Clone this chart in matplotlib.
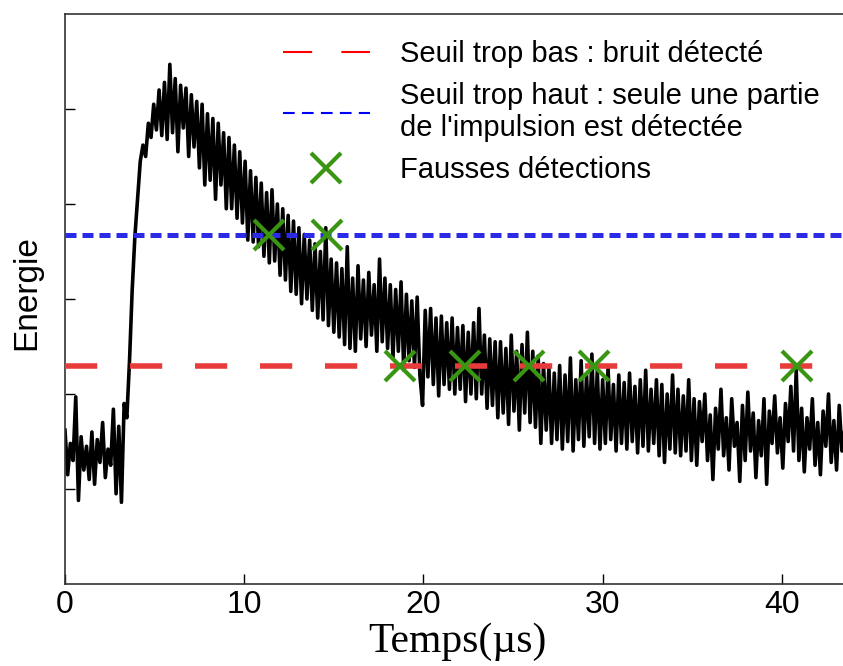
import numpy as np
import matplotlib
matplotlib.use("Agg")
import matplotlib.pyplot as plt
from matplotlib.lines import Line2D

plt.rcParams['font.family'] = ['Liberation Sans', 'DejaVu Sans']

# signal (energie) echantillonne tous les pas_us microsecondes
pas_us = 0.15
energie = [
    1.62, 1.15, 1.48, 1.30, 1.97, 0.88, 1.55, 1.20, 1.45, 1.10, 1.60, 1.05,
    1.52, 1.28, 1.70, 1.12, 1.42, 1.25, 1.84, 0.95, 1.66, 0.86, 1.90,
    1.75, 2.35, 3.10, 3.66, 4.05, 4.45, 4.62, 4.50, 4.85, 4.70, 5.05, 4.78,
    5.20, 4.72, 5.28, 4.68, 5.47, 4.75, 5.32, 4.55, 5.25, 4.80, 5.22, 4.50,
    5.15, 4.60, 5.08, 4.38,
    5.05, 4.20, 4.95, 4.25, 4.90, 4.05, 4.85, 4.20, 4.75, 3.95, 4.70,
    3.95, 4.62, 3.85, 4.55, 3.80, 4.45, 3.62,
    4.35, 3.60, 4.28, 3.55, 4.22, 3.45, 4.12,
    3.38, 4.15, 3.40, 4.00, 3.25, 3.95, 3.20, 3.88,
    3.08, 3.82, 3.05, 3.75, 2.95, 3.68, 3.00, 3.62,
    2.88, 3.58, 2.80, 3.50, 2.78, 3.75, 2.72, 3.42,
    2.65, 3.38, 2.60, 3.32, 2.52, 3.55, 2.48,
    3.22, 2.45, 3.35, 2.58, 3.20, 2.50, 3.28, 2.62, 3.15, 2.45, 3.42, 2.55,
    3.22, 2.48, 3.15, 2.38, 3.10, 2.45,
    3.18, 2.25, 3.05, 2.35, 2.98, 2.28, 3.02, 2.20, 1.88,
    2.88, 2.18, 2.90, 2.10, 2.80, 1.98, 2.82,
    2.10, 2.75, 2.05, 2.80, 2.00, 2.70, 2.05,
    2.72, 1.92, 2.65, 2.00, 2.75, 1.95, 2.90, 2.00, 2.62, 1.85, 2.58, 1.88, 2.55,
    1.75, 2.55, 1.80, 2.48, 1.68, 2.62, 1.82, 2.45, 1.62,
    2.52, 1.80, 2.65, 1.70, 2.45, 1.65, 2.40, 1.48,
    2.32, 1.62, 2.28, 1.48, 2.22,
    1.52, 2.30, 1.42, 2.20, 1.50, 2.38, 1.40, 2.15,
    1.52, 2.35, 1.45, 2.20, 1.55, 2.42, 1.48, 2.25, 1.42,
    2.15, 1.48, 2.28, 1.52, 2.10, 1.40, 2.20,
    1.48, 2.12, 1.42, 2.22, 1.50, 2.08, 1.38, 2.15,
    1.45, 2.25, 1.40, 2.05, 1.48, 2.15, 1.35, 2.10,
    1.28, 2.00, 1.42, 2.20, 1.38, 2.05, 1.35,
    1.98, 1.40, 2.15, 1.30, 1.95,
    1.25, 1.92, 1.50, 2.00, 1.30, 1.78, 1.10, 1.85, 1.42, 2.05, 1.35, 1.75,
    1.20, 1.95, 1.45, 1.70,
    1.08, 1.88, 1.30, 2.02, 1.40, 1.80, 1.12, 1.72, 1.35, 1.95, 1.05, 1.82,
    1.48, 1.98, 1.38, 1.75,
    1.22, 1.90, 1.50, 2.08, 1.40, 2.25, 1.30, 1.85, 1.18, 1.75, 1.42, 1.95,
    1.25, 1.70, 1.15, 1.82, 1.45, 2.00, 1.28, 1.72, 1.20, 1.88, 1.40, 1.65,
]
temps = np.arange(len(energie)) * pas_us

seuil_bas = 2.30
seuil_haut = 3.67

fausses_t = [11.4, 14.6, 18.7, 22.3, 25.9, 29.5, 40.85]
fausses_e = [3.67, 3.67, 2.30, 2.30, 2.30, 2.30, 2.30]

labels = ["Seuil trop bas : bruit détecté",
          "Seuil trop haut : seule une partie\nde l'impulsion est détectée",
          "Fausses détections"]

ROUGE = '#e83c3c'
BLEU = '#2b2be6'
VERT = '#3a9612'

fig = plt.figure(figsize=(8.43, 6.66), dpi=100)
ax = fig.add_axes([0.0771, 0.1231, 0.9312, 0.8559])

ax.plot(temps, energie, color='black', lw=2.6, zorder=2)
ax.axhline(seuil_bas, color=ROUGE, lw=4, dashes=(5.8, 5.9), zorder=3)
ax.axhline(seuil_haut, color=BLEU, lw=3.6, dashes=(2.2, 1.2), zorder=3)
ax.plot(fausses_t, fausses_e, ls='none', marker='x', ms=22, mew=3,
        color=VERT, zorder=4)

ax.set_xlim(0, 43.8)
ax.set_ylim(0, 6)
ax.set_xticks([0, 10, 20, 30, 40])
ax.set_yticks([1, 2, 3, 4, 5])
ax.set_yticklabels([])
ax.tick_params(direction='in', length=7, width=1, pad=4, labelsize=23,
               top=False, right=False)
for lab in ax.get_xticklabels():
    lab.set_family(['Liberation Sans Narrow', 'Liberation Sans'])

for s in ['left', 'bottom', 'top']:
    ax.spines[s].set_color('#333333')
    ax.spines[s].set_linewidth(1.2)
ax.spines['right'].set_visible(False)

ax.set_xlabel('Temps(µs)', family='Liberation Serif', fontsize=30, labelpad=2)
ax.set_ylabel('Energie', fontsize=24)
ax.yaxis.set_label_coords(-0.029, 0.512)

h1 = Line2D([], [], color='red', lw=1.5, dashes=(14, 14))
h2 = Line2D([], [], color='blue', lw=1.5, dashes=(5.6, 3.5))
h3 = Line2D([], [], ls='none', marker='x', ms=22, mew=3, color=VERT)
ax.legend([h1, h2, h3], labels, loc='upper left',
          bbox_to_anchor=(283 / 843, 1 - 40 / 666),
          bbox_transform=fig.transFigure, frameon=False,
          prop={'family': 'Liberation Sans', 'size': 21},
          handlelength=2.98, handletextpad=1.03, borderpad=0,
          borderaxespad=0, labelspacing=0.47)

fig.savefig('out.png', dpi=100)
